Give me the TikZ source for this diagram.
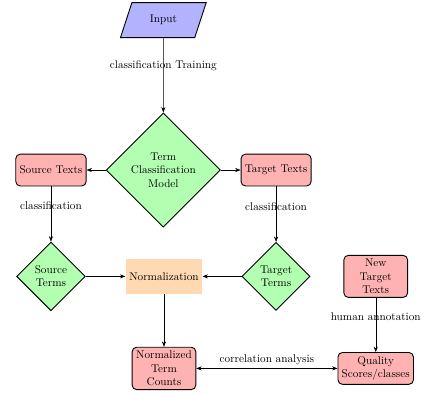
\documentclass[tikz,border=0pt]{standalone}
\usepackage{amsmath,amssymb}
\usepackage{tikz}
\usetikzlibrary{arrows.meta,shapes.geometric}

\begin{document}
\begin{tikzpicture}[>=Stealth,
  iobox/.style={trapezium,trapezium left angle=70,trapezium right angle=110,
    trapezium stretches=true,minimum width=2.7cm,minimum height=1.1cm,
    draw=black,thick,fill=blue!30},
  textbox/.style={rectangle,rounded corners,minimum width=2cm,minimum height=1cm,
    align=center,draw=black,thick,fill=red!30},
  decision/.style={diamond,aspect=1,align=center,draw=black,thick,fill=green!30},
  procbox/.style={rectangle,minimum width=2cm,minimum height=1.1cm,fill=orange!30}]
\useasboundingbox (0,0) rectangle (13.41,-12.37);
\node[iobox]    (input)    at (5.13,-0.63)  {Input};
\node[decision] (model)    at (5.13,-5.34)  {Term\\Classification\\Model};
\node[textbox]  (srctexts) at (1.60,-5.34)  {Source Texts};
\node[textbox]  (tgttexts) at (8.67,-5.34)  {Target Texts};
\node[decision] (srcterms) at (1.60,-8.68)  {Source\\Terms};
\node[decision] (tgtterms) at (8.67,-8.68)  {Target\\Terms};
\node[procbox]  (norm)     at (5.15,-8.68)  {Normalization};
\node[textbox]  (counts)   at (5.15,-11.57) {Normalized\\Term\\Counts};
\node[textbox]  (newtexts) at (11.80,-8.68) {New\\Target\\Texts};
\node[textbox]  (quality)  at (11.80,-11.57) {Quality\\Scores/classes};
\draw[->] (input)    -- (model)    node[midway,above] {classification Training};
\draw[->] (model)    -- (srctexts);
\draw[->] (model)    -- (tgttexts);
\draw[->] (srctexts) -- (srcterms) node[midway,above] {classification};
\draw[->] (tgttexts) -- (tgtterms) node[midway,above] {classification};
\draw[->] (srcterms) -- (norm);
\draw[->] (tgtterms) -- (norm);
\draw[->] (norm)     -- (counts);
\draw[->] (newtexts) -- (quality)  node[midway,above] {human annotation};
\draw[<->] (counts)  -- (quality)  node[midway,above] {correlation analysis};
\end{tikzpicture}
\end{document}
